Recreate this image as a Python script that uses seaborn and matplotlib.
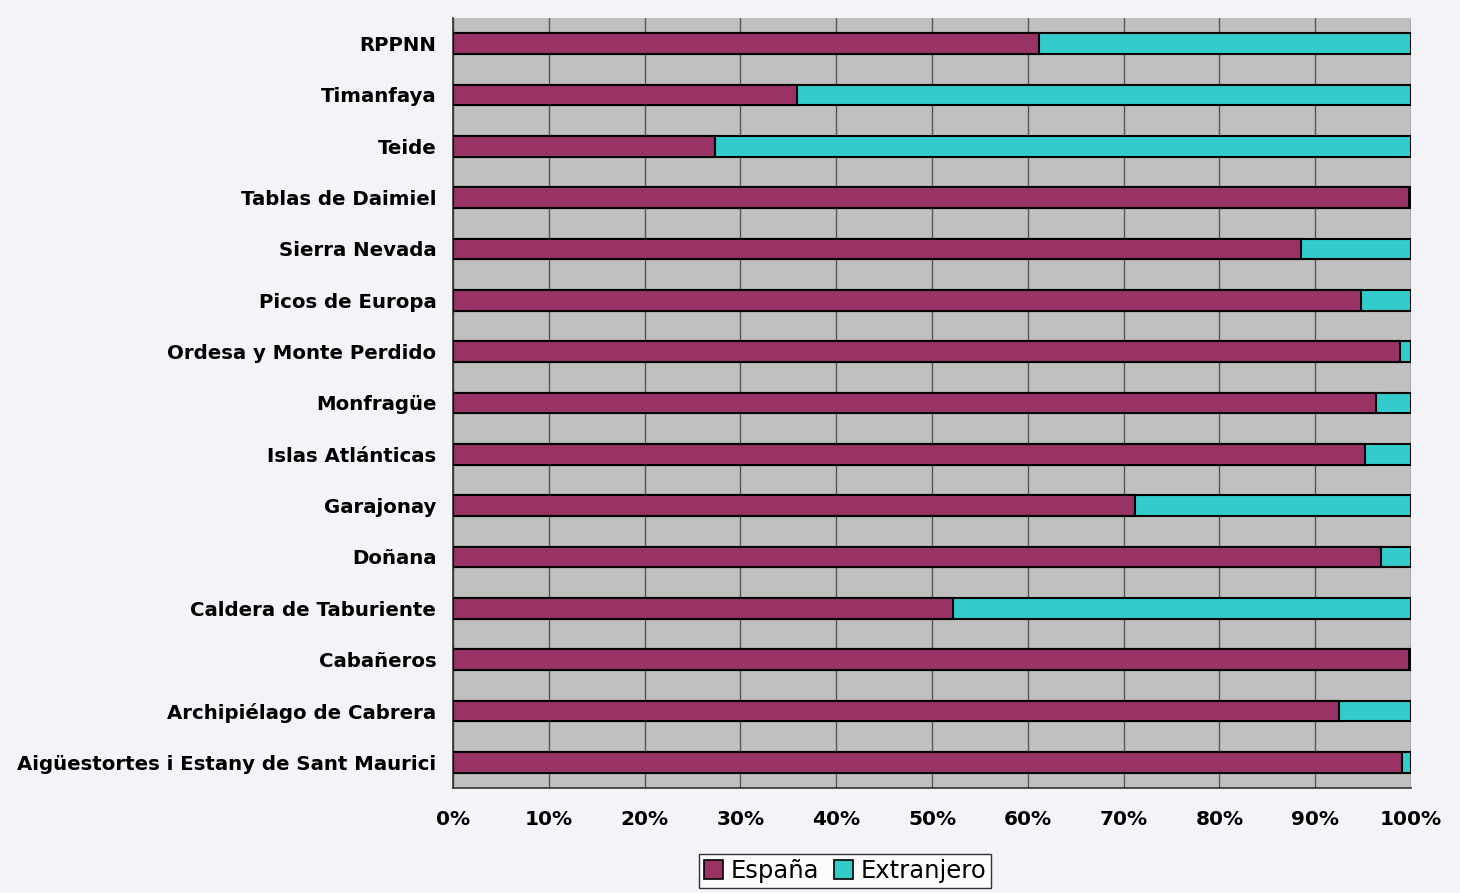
import numpy as np
import pandas as pd
import seaborn as sns
import matplotlib.pyplot as plt
from matplotlib.patches import Patch

parques = ['RPPNN', 'Timanfaya', 'Teide', 'Tablas de Daimiel', 'Sierra Nevada',
           'Picos de Europa', 'Ordesa y Monte Perdido', 'Monfragüe',
           'Islas Atlánticas', 'Garajonay', 'Doñana', 'Caldera de Taburiente',
           'Cabañeros', 'Archipiélago de Cabrera',
           'Aigüestortes i Estany de Sant Maurici']
espana = [61.2, 35.9, 27.3, 99.8, 88.5, 94.8, 98.9, 96.3, 95.2, 71.2, 96.9, 52.2, 99.8, 92.5, 99.1]
extranjero = [38.8, 64.1, 72.7, 0.2, 11.5, 5.2, 1.1, 3.7, 4.8, 28.8, 3.1, 47.8, 0.2, 7.5, 0.9]
xticks = [0, 10, 20, 30, 40, 50, 60, 70, 80, 90, 100]

col_es = '#993366'
col_ex = '#33CCCC'

df = pd.DataFrame({'parque': parques, 'espana': espana, 'extranjero': extranjero})
df['total'] = df['espana'] + df['extranjero']

sns.set_style('white')
plt.rcParams['font.family'] = ['DejaVu Sans']
plt.rcParams['text.color'] = 'black'
plt.rcParams['xtick.color'] = 'black'
plt.rcParams['ytick.color'] = 'black'

fig = plt.figure(figsize=(14.6, 8.93), dpi=100, facecolor='#F3F4F8')
ax = fig.add_axes([453 / 1460, 1 - 788 / 893, 958 / 1460, 770 / 893])
ax.set_facecolor('#C0C0C0')

sns.barplot(data=df, y='parque', x='total', orient='h', color=col_ex,
            width=0.4, edgecolor='black', linewidth=1.5, saturation=1, ax=ax, zorder=3)
sns.barplot(data=df, y='parque', x='espana', orient='h', color=col_es,
            width=0.4, edgecolor='black', linewidth=1.5, saturation=1, ax=ax, zorder=4)

ax.set_xlim(0, 100)
ax.set_ylim(len(parques) - 0.5, -0.5)
ax.set_xticks(xticks)
ax.set_xticklabels([f'{v}%' for v in xticks], fontsize=14.5, fontweight='bold')
ax.set_yticks(np.arange(len(parques)))
ax.set_yticklabels(parques, fontsize=14.2, fontweight='bold')
ax.set_yticks(np.arange(len(parques) + 1) - 0.5, minor=True)
ax.tick_params(axis='y', which='major', length=0, pad=12)
ax.tick_params(axis='y', which='minor', length=6, width=1, color='#333333', direction='out')
ax.tick_params(axis='x', length=6, width=1, color='#333333', direction='out', pad=10)
ax.set_xlabel('')
ax.set_ylabel('')

ax.xaxis.grid(True, color='#555555', linewidth=1)
ax.set_axisbelow(True)
for s in ['top', 'right']:
    ax.spines[s].set_visible(False)
ax.spines['left'].set_color('#333333')
ax.spines['bottom'].set_color('#333333')
ax.spines['left'].set_linewidth(1.2)
ax.spines['bottom'].set_linewidth(1.2)
ax.axvline(100, color='#999999', linewidth=1, zorder=2)

handles = [Patch(facecolor=col_es, edgecolor='black', linewidth=1.2, label='España'),
           Patch(facecolor=col_ex, edgecolor='black', linewidth=1.2, label='Extranjero')]
leg = fig.legend(handles=handles, loc='center', bbox_to_anchor=(845 / 1460, 1 - 871 / 893),
                 ncol=2, fontsize=17.5, frameon=True, fancybox=False, edgecolor='black',
                 handlelength=0.8, handleheight=0.8, handletextpad=0.3, columnspacing=0.6,
                 borderpad=0.2, borderaxespad=0)
leg.get_frame().set_linewidth(1)
leg.get_frame().set_facecolor('white')

fig.savefig('out.png', dpi=100, facecolor=fig.get_facecolor())
